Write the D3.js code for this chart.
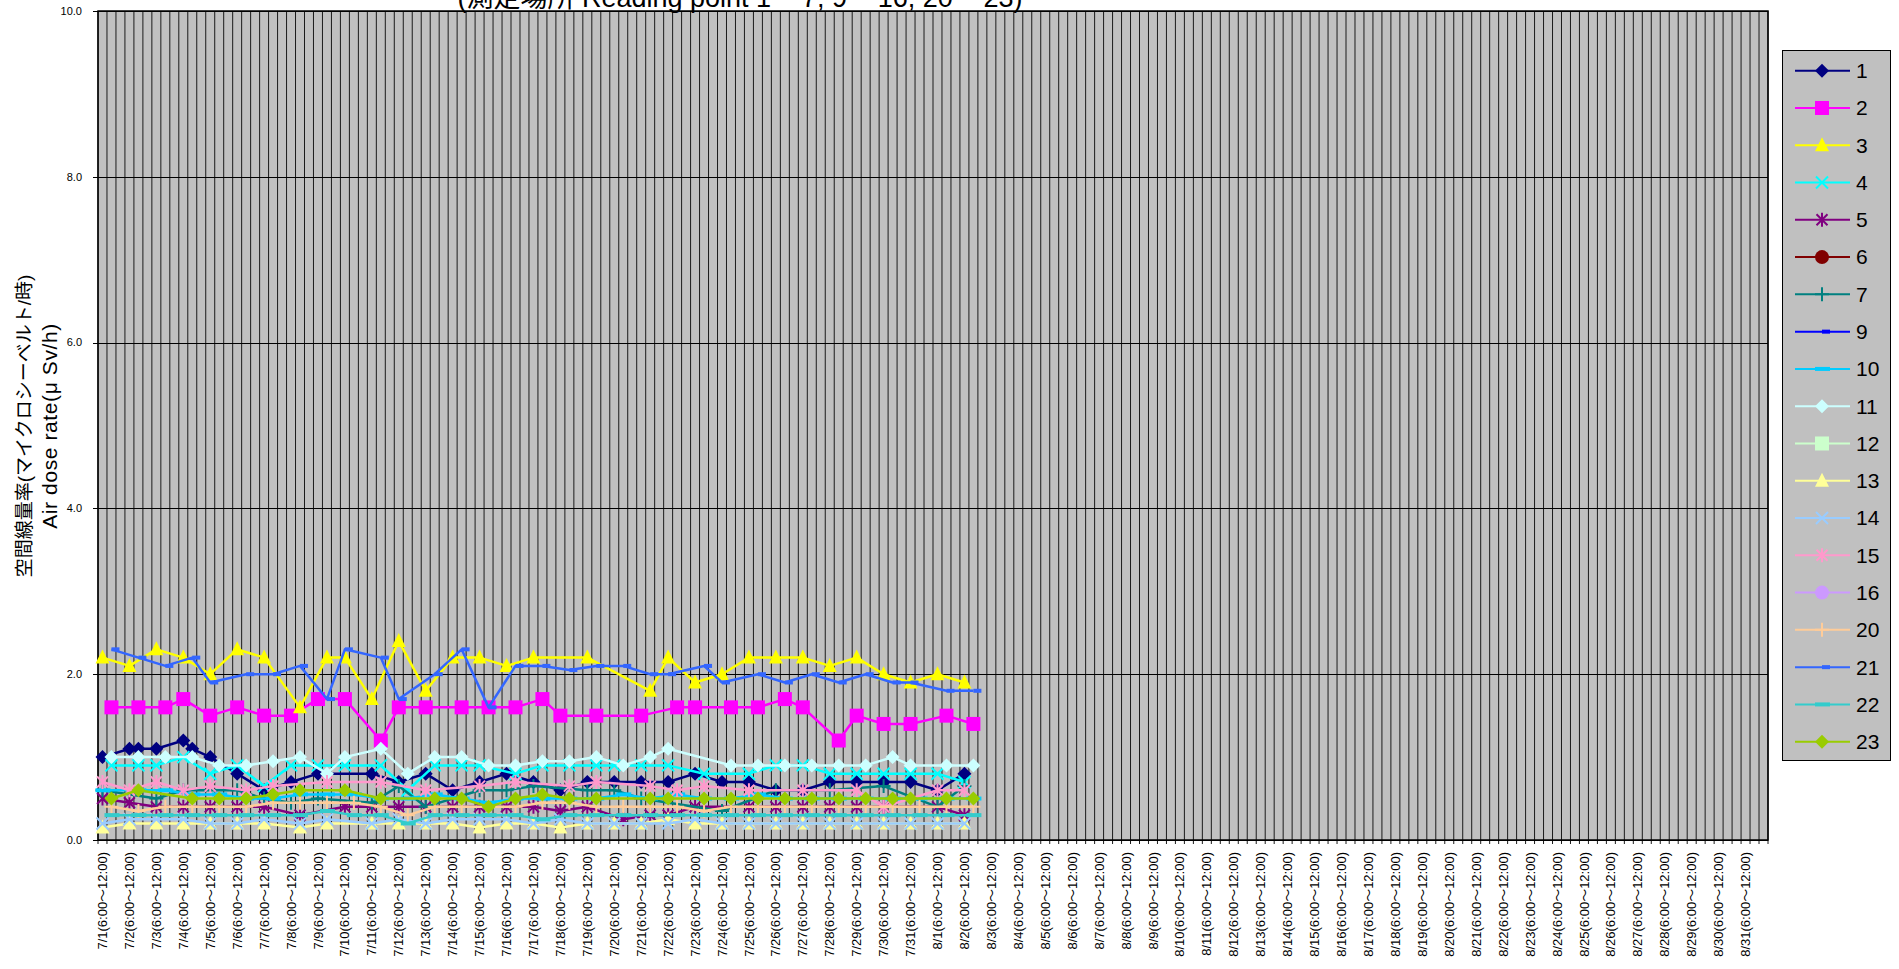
<!DOCTYPE html>
<html>
<head>
<meta charset="utf-8">
<script src="https://cdn.jsdelivr.net/npm/d3@7"></script>
<style>
body { margin: 0; background: #fff; }
svg text { font-family: "Liberation Sans", Arial, "Noto Sans CJK JP", sans-serif; fill: #000; }
</style>
</head>
<body>
<script>
// x categories: one label per day, each day split into 3 slots
const dates = ["7/1","7/2","7/3","7/4","7/5","7/6","7/7","7/8","7/9","7/10","7/11","7/12","7/13","7/14","7/15","7/16",
  "7/17","7/18","7/19","7/20","7/21","7/22","7/23","7/24","7/25","7/26","7/27","7/28","7/29","7/30","7/31",
  "8/1","8/2","8/3","8/4","8/5","8/6","8/7","8/8","8/9","8/10","8/11","8/12","8/13","8/14","8/15","8/16",
  "8/17","8/18","8/19","8/20","8/21","8/22","8/23","8/24","8/25","8/26","8/27","8/28","8/29","8/30","8/31"];
const timeSlot = "(6:00～12:00)";
const slotsPerDay = 3;
const yTicks = [0, 2, 4, 6, 8, 10];

// readings as [slot, value]
const p1 = [[0,1.0],[3,1.1],[4,1.1],[6,1.1],[9,1.2],[10,1.1],[12,1.0],[15,0.8],[18,0.6],[21,0.7],[24,0.8],[30,0.8],[33,0.7],[36,0.8],[39,0.6],[42,0.7],[45,0.8],[48,0.7],[51,0.6],[54,0.7],[57,0.7],[60,0.7],[63,0.7],[66,0.8],[69,0.7],[72,0.7],[75,0.6],[78,0.6],[81,0.7],[84,0.7],[87,0.7],[90,0.7],[93,0.6],[96,0.8]];
const p2 = [[1,1.6],[4,1.6],[7,1.6],[9,1.7],[12,1.5],[15,1.6],[18,1.5],[21,1.5],[24,1.7],[27,1.7],[31,1.2],[33,1.6],[36,1.6],[40,1.6],[43,1.6],[46,1.6],[49,1.7],[51,1.5],[55,1.5],[60,1.5],[64,1.6],[66,1.6],[70,1.6],[73,1.6],[76,1.7],[78,1.6],[82,1.2],[84,1.5],[87,1.4],[90,1.4],[94,1.5],[97,1.4]];
const p3 = [[0,2.2],[3,2.1],[6,2.3],[9,2.2],[12,2.0],[15,2.3],[18,2.2],[22,1.6],[25,2.2],[27,2.2],[30,1.7],[33,2.4],[36,1.8],[39,2.2],[42,2.2],[45,2.1],[48,2.2],[54,2.2],[61,1.8],[63,2.2],[66,1.9],[69,2.0],[72,2.2],[75,2.2],[78,2.2],[81,2.1],[84,2.2],[87,2.0],[90,1.9],[93,2.0],[96,1.9]];
const p4 = [[1,0.9],[4,0.9],[6,0.9],[9,1.0],[12,0.8],[15,0.9],[18,0.65],[21,0.9],[24,0.9],[27,0.9],[31,0.9],[34,0.6],[37,0.9],[40,0.9],[42,0.9],[46,0.8],[49,0.9],[52,0.9],[55,0.9],[57,0.9],[60,0.9],[63,0.9],[67,0.8],[72,0.8],[75,0.9],[78,0.9],[81,0.8],[84,0.8],[87,0.8],[90,0.8],[93,0.8],[96,0.7]];
const p5 = [[0,0.5],[3,0.45],[6,0.4],[9,0.4],[12,0.4],[15,0.4],[18,0.4],[22,0.3],[27,0.4],[30,0.4],[33,0.4],[36,0.4],[39,0.4],[42,0.4],[45,0.4],[48,0.4],[51,0.35],[54,0.4],[58,0.25],[61,0.3],[63,0.3],[66,0.4],[72,0.4],[75,0.4],[78,0.4],[81,0.4],[84,0.4],[87,0.4],[93,0.4],[96,0.3]];
const p6 = [];
const p7 = [[0,0.6],[6,0.5],[9,0.6],[15,0.6],[18,0.5],[21,0.45],[24,0.5],[30,0.45],[33,0.65],[36,0.4],[42,0.6],[45,0.6],[48,0.65],[54,0.6],[57,0.6],[60,0.5],[69,0.35],[75,0.6],[81,0.6],[87,0.65],[93,0.4],[96,0.65]];
const p9 = [];
const p10 = [[0,0.6],[4,0.6],[7,0.6],[10,0.55],[13,0.55],[16,0.5],[19,0.5],[22,0.55],[25,0.55],[28,0.55],[31,0.5],[34,0.5],[37,0.55],[40,0.5],[43,0.45],[46,0.5],[49,0.5],[52,0.5],[55,0.5],[58,0.55],[61,0.5],[64,0.55],[67,0.5],[70,0.5],[73,0.55],[76,0.5],[79,0.5],[82,0.5],[85,0.5],[88,0.5],[91,0.5],[94,0.5],[97,0.5]];
const p11 = [[1,1.0],[4,1.0],[7,1.0],[10,1.0],[13,0.9],[16,0.9],[19,0.95],[22,1.0],[25,0.8],[27,1.0],[31,1.1],[34,0.8],[37,1.0],[40,1.0],[43,0.9],[46,0.9],[49,0.95],[52,0.95],[55,1.0],[58,0.9],[61,1.0],[63,1.1],[70,0.9],[73,0.9],[76,0.9],[79,0.9],[82,0.9],[85,0.9],[88,1.0],[90,0.9],[94,0.9],[97,0.9]];
const p12 = [];
const p13 = [[0,0.15],[3,0.2],[6,0.2],[9,0.2],[12,0.2],[15,0.2],[18,0.2],[22,0.15],[25,0.2],[30,0.2],[33,0.2],[36,0.2],[39,0.2],[42,0.15],[45,0.2],[48,0.2],[51,0.15],[54,0.2],[57,0.2],[60,0.2],[63,0.25],[66,0.2],[69,0.2],[72,0.2],[75,0.2],[78,0.2],[81,0.2],[84,0.2],[87,0.2],[90,0.2],[93,0.2],[96,0.2]];
const p14 = [[0,0.2],[3,0.25],[6,0.25],[9,0.25],[12,0.2],[15,0.2],[18,0.25],[22,0.2],[25,0.25],[30,0.2],[33,0.25],[36,0.2],[39,0.25],[42,0.25],[45,0.25],[48,0.2],[51,0.25],[54,0.2],[57,0.2],[60,0.2],[63,0.2],[66,0.25],[69,0.2],[72,0.2],[75,0.2],[78,0.2],[81,0.2],[84,0.2],[87,0.2],[90,0.2],[93,0.2],[96,0.2]];
const p15 = [[0,0.7],[3,0.6],[6,0.7],[9,0.6],[12,0.65],[16,0.6],[19,0.65],[25,0.7],[31,0.7],[36,0.6],[42,0.65],[46,0.7],[52,0.65],[55,0.7],[61,0.65],[64,0.6],[67,0.65],[72,0.6],[78,0.6],[84,0.6],[87,0.4],[93,0.6],[96,0.6]];
const p16 = [];
const p20 = [[1,0.4],[4,0.35],[7,0.4],[10,0.4],[13,0.4],[16,0.4],[19,0.45],[22,0.45],[25,0.45],[28,0.45],[31,0.4],[34,0.3],[37,0.4],[40,0.4],[43,0.4],[46,0.4],[49,0.45],[52,0.45],[55,0.4],[58,0.4],[61,0.4],[64,0.4],[67,0.35],[70,0.4],[73,0.4],[76,0.4],[79,0.4],[82,0.4],[85,0.4],[88,0.4],[91,0.4],[94,0.4],[97,0.4]];
const p21 = [[1,2.3],[4,2.2],[7,2.1],[10,2.2],[12,1.9],[16,2.0],[19,2.0],[22,2.1],[25,1.7],[27,2.3],[31,2.2],[33,1.7],[37,2.0],[40,2.3],[43,1.6],[46,2.1],[49,2.1],[52,2.05],[55,2.1],[58,2.1],[61,2.0],[63,2.0],[67,2.1],[69,1.9],[73,2.0],[76,1.9],[79,2.0],[82,1.9],[85,2.0],[88,1.9],[90,1.9],[94,1.8],[97,1.8]];
const p22 = [[1,0.3],[4,0.3],[7,0.3],[10,0.3],[13,0.3],[16,0.3],[19,0.3],[22,0.3],[25,0.35],[28,0.3],[31,0.3],[34,0.2],[37,0.3],[40,0.3],[43,0.3],[46,0.3],[49,0.25],[52,0.3],[55,0.3],[58,0.3],[61,0.3],[64,0.3],[67,0.3],[70,0.3],[73,0.3],[76,0.3],[79,0.3],[82,0.3],[85,0.3],[88,0.3],[91,0.3],[94,0.3],[97,0.3]];
const p23 = [[1,0.5],[4,0.6],[10,0.5],[13,0.5],[16,0.5],[19,0.55],[22,0.6],[27,0.6],[31,0.5],[37,0.5],[40,0.5],[43,0.4],[46,0.5],[49,0.55],[52,0.5],[55,0.5],[61,0.5],[63,0.5],[67,0.5],[70,0.5],[73,0.5],[76,0.5],[79,0.5],[82,0.5],[85,0.5],[88,0.5],[90,0.5],[94,0.5],[97,0.5]];

const names = ["1","2","3","4","5","6","7","9","10","11","12","13","14","15","16","20","21","22","23"];
const readings = [p1,p2,p3,p4,p5,p6,p7,p9,p10,p11,p12,p13,p14,p15,p16,p20,p21,p22,p23];
const colors = ["#000080","#ff00ff","#ffff00","#00ffff","#800080","#800000","#008080","#0000ff","#00ccff","#ccffff",
  "#ccffcc","#ffff99","#99ccff","#ff99cc","#cc99ff","#ffcc99","#3366ff","#33cccc","#99cc00"];
const markers = ["diamond","square","triangle","x","star","circle","plus","dash","longdash","diamond",
  "square","triangle","x","star","circle","plus","dash","longdash","diamond"];

const width = 1899, height = 969;
const plot = {left: 98, right: 1768, top: 11, bottom: 840};

const svg = d3.select("body").append("svg")
    .attr("width", width)
    .attr("height", height);

const x = d3.scaleBand()
    .domain(d3.range(dates.length * slotsPerDay))
    .range([plot.left, plot.right]);
const bw = x.bandwidth();
const y = d3.scaleLinear().domain([0, 10]).range([plot.bottom, plot.top]);

// plot background
svg.append("rect")
    .attr("x", plot.left).attr("y", plot.top)
    .attr("width", plot.right - plot.left).attr("height", plot.bottom - plot.top)
    .attr("fill", "#c0c0c0");

// vertical grid, one line per slot
svg.append("g").selectAll("line")
    .data(d3.range(dates.length * slotsPerDay + 1))
    .join("line")
    .attr("x1", d => plot.left + d * bw).attr("x2", d => plot.left + d * bw)
    .attr("y1", plot.top).attr("y2", plot.bottom + 4)
    .attr("stroke", "#1a1a1a").attr("stroke-width", 1);

// horizontal grid
svg.append("g").selectAll("line")
    .data(yTicks)
    .join("line")
    .attr("x1", plot.left - 5).attr("x2", plot.right)
    .attr("y1", d => Math.round(y(d)) + 0.5).attr("y2", d => Math.round(y(d)) + 0.5)
    .attr("stroke", "#000").attr("stroke-width", 1);

svg.append("rect")
    .attr("x", plot.left).attr("y", plot.top)
    .attr("width", plot.right - plot.left).attr("height", plot.bottom - plot.top)
    .attr("fill", "none").attr("stroke", "#000").attr("stroke-width", 1.5);

// y tick labels
svg.append("g").selectAll("text")
    .data(yTicks)
    .join("text")
    .attr("x", 82).attr("y", d => y(d))
    .attr("dy", "0.35em")
    .attr("text-anchor", "end")
    .style("font-size", "11px")
    .text(d => d3.format(".1f")(d));

// x tick labels, rotated
svg.append("g").selectAll("text")
    .data(dates)
    .join("text")
    .attr("transform", (d, i) => "translate(" + (x(i * slotsPerDay) + bw / 2) + ",852) rotate(-90)")
    .attr("dy", "0.35em")
    .attr("text-anchor", "end")
    .style("font-size", "13px")
    .text(d => d + timeSlot);

// y axis title
const yt = svg.append("text")
    .attr("transform", "translate(24,426) rotate(-90)")
    .attr("text-anchor", "middle")
    .style("font-size", "19px");
yt.append("tspan").attr("x", 0).attr("dy", "0.35em").text("空間線量率(マイクロシーベルト/時)");
yt.append("tspan").attr("x", 0).attr("dy", "1.25em")
    .style("font-size", "21px").style("letter-spacing", "0.6px")
    .text("Air dose rate(μ Sv/h)");

// title (top is cut off in the picture)
svg.append("text")
    .attr("x", 740).attr("y", 7)
    .attr("text-anchor", "middle")
    .style("font-size", "27px")
    .text("(測定場所 Reading point 1 ~ 7, 9 ~ 16, 20 ~ 23)");

function drawMarker(g, type, color) {
    const s = 7;
    if (type === "diamond") {
        g.append("path").attr("d", `M0,${-s}L${s},0L0,${s}L${-s},0Z`).attr("fill", color);
    } else if (type === "square") {
        g.append("rect").attr("x", -s).attr("y", -s).attr("width", 2 * s).attr("height", 2 * s).attr("fill", color);
    } else if (type === "triangle") {
        g.append("path").attr("d", `M0,${-s - 1}L${s},${s - 1}L${-s},${s - 1}Z`).attr("fill", color);
    } else if (type === "x") {
        g.append("path").attr("d", "M-6,-6L6,6M-6,6L6,-6").attr("stroke", color).attr("stroke-width", 2).attr("fill", "none");
    } else if (type === "star") {
        g.append("path").attr("d", "M-5.5,-5.5L5.5,5.5M-5.5,5.5L5.5,-5.5M0,-7V7").attr("stroke", color).attr("stroke-width", 2).attr("fill", "none");
    } else if (type === "circle") {
        g.append("circle").attr("r", s).attr("fill", color);
    } else if (type === "plus") {
        g.append("path").attr("d", "M-7,0H7M0,-7V7").attr("stroke", color).attr("stroke-width", 2).attr("fill", "none");
    } else if (type === "dash") {
        g.append("rect").attr("x", 0).attr("y", -2).attr("width", 8).attr("height", 4).attr("fill", color);
    } else if (type === "longdash") {
        g.append("rect").attr("x", -7).attr("y", -2).attr("width", 15).attr("height", 4).attr("fill", color);
    }
}

const line = d3.line()
    .x(d => x(d[0]) + bw / 2)
    .y(d => y(d[1]));

readings.forEach((data, i) => {
    if (!data.length) return;
    const g = svg.append("g");
    g.append("path")
        .datum(data)
        .attr("d", line)
        .attr("fill", "none")
        .attr("stroke", colors[i])
        .attr("stroke-width", 2.5)
        .attr("stroke-linejoin", "round");
    data.forEach(d => {
        const m = g.append("g").attr("transform", "translate(" + (x(d[0]) + bw / 2) + "," + y(d[1]) + ")");
        drawMarker(m, markers[i], colors[i]);
    });
});

// legend
const legend = svg.append("g");
legend.append("rect")
    .attr("x", 1782.5).attr("y", 50.5).attr("width", 108).attr("height", 710)
    .attr("fill", "#c0c0c0").attr("stroke", "#000").attr("stroke-width", 1);

const ly = d3.scalePoint().domain(names).range([70.7, 741.7]);
names.forEach((n, i) => {
    const g = legend.append("g").attr("transform", "translate(0," + ly(n) + ")");
    g.append("line").attr("x1", 1795).attr("x2", 1850)
        .attr("stroke", colors[i]).attr("stroke-width", 2);
    drawMarker(g.append("g").attr("transform", "translate(1822,0)"), markers[i], colors[i]);
    g.append("text").attr("x", 1856).attr("dy", "0.35em")
        .style("font-size", "21px").text(n);
});
</script>
</body>
</html>
